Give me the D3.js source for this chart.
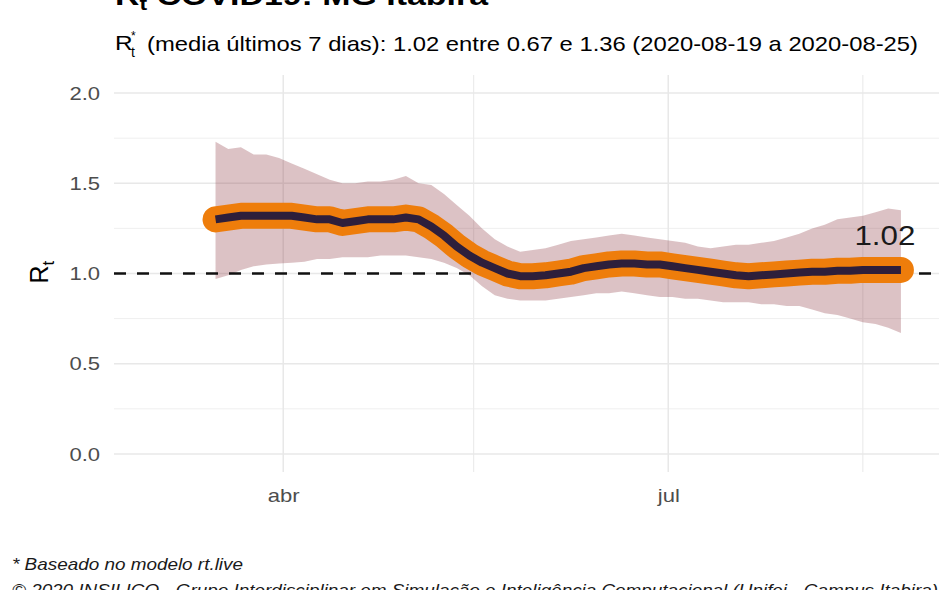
<!DOCTYPE html>
<html>
<head>
<meta charset="utf-8">
<script src="https://cdn.jsdelivr.net/npm/d3@7"></script>
<style>
  body { margin: 0; background: #fff; }
  svg text { font-family: "Liberation Sans", Arial, sans-serif; }
</style>
</head>
<body>
<div id="chart"></div>
<script>
// Rt estimates, one every 3 days, 2020-03-16 .. 2020-08-25
const startDay = "2020-03-16";
const stepDays = 3;

const rtMedian = [
  1.30, 1.31, 1.32, 1.32, 1.32, 1.32, 1.32, 1.31, 1.30, 1.30,
  1.28, 1.29, 1.30, 1.30, 1.30, 1.31, 1.30, 1.26, 1.21, 1.15,
  1.10, 1.06, 1.03, 1.00, 0.985, 0.985, 0.99, 1.00, 1.01, 1.03,
  1.04, 1.05, 1.055, 1.055, 1.05, 1.05, 1.04, 1.03, 1.02, 1.01,
  1.00, 0.99, 0.985, 0.99, 0.995, 1.00, 1.005, 1.01, 1.01, 1.015,
  1.015, 1.02, 1.02, 1.02, 1.02
];
const rtUpper = [
  1.73, 1.69, 1.70, 1.66, 1.66, 1.64, 1.61, 1.58, 1.55, 1.52,
  1.50, 1.50, 1.51, 1.51, 1.52, 1.54, 1.50, 1.49, 1.44, 1.38,
  1.32, 1.25, 1.19, 1.15, 1.12, 1.13, 1.14, 1.16, 1.18, 1.19,
  1.20, 1.21, 1.22, 1.21, 1.20, 1.19, 1.18, 1.17, 1.15, 1.14,
  1.15, 1.16, 1.16, 1.17, 1.18, 1.20, 1.22, 1.25, 1.27, 1.30,
  1.31, 1.32, 1.34, 1.36, 1.35
];
const rtLower = [
  0.97, 0.99, 1.02, 1.04, 1.05, 1.055, 1.06, 1.065, 1.08, 1.08,
  1.09, 1.09, 1.09, 1.10, 1.10, 1.10, 1.09, 1.08, 1.06, 1.03,
  0.99, 0.93, 0.88, 0.86, 0.85, 0.85, 0.85, 0.86, 0.87, 0.88,
  0.89, 0.89, 0.90, 0.89, 0.88, 0.87, 0.87, 0.86, 0.86, 0.85,
  0.84, 0.84, 0.84, 0.83, 0.83, 0.82, 0.82, 0.80, 0.78, 0.77,
  0.75, 0.73, 0.72, 0.70, 0.67
];

const yTicks = [0, 0.5, 1.0, 1.5, 2.0];
const yMinorTicks = [0.25, 0.75, 1.25, 1.75];
const xTickDates = ["2020-04-01", "2020-07-01"];
const xTickLabels = ["abr", "jul"];
const xMinorDates = ["2020-05-16", "2020-08-16"];
const xDomain = ["2020-02-21", "2020-09-03"];
const refLine = 1.0;
const lastLabel = "1.02";

const titleText = " COVID19: MG Itabira";
const subtitleText = "(media últimos 7 dias): 1.02 entre 0.67 e 1.36 (2020-08-19 a 2020-08-25)";
const caption1 = "* Baseado no modelo rt.live";
const caption2 = "© 2020 INSILICO - Grupo Interdisciplinar em Simulação e Inteligência Computacional (Unifei - Campus Itabira)";

const parse = d3.utcParse("%Y-%m-%d");
const data = rtMedian.map((m, i) => ({
  date: d3.utcDay.offset(parse(startDay), i * stepDays),
  median: m,
  lower: rtLower[i],
  upper: rtUpper[i]
}));

const width = 950, height = 590;
const panel = {left: 114, right: 939, top: 75, bottom: 472};
const stretch = 1.16;   // the reference text is a bit wider than plain Liberation Sans

function widen(sel, origin) {
  sel.style("transform-box", "fill-box")
    .style("transform-origin", origin)
    .style("transform", "scaleX(" + stretch + ")");
}

const svg = d3.select("#chart").append("svg")
  .attr("width", width)
  .attr("height", height);

const x = d3.scaleUtc()
  .domain(xDomain.map(parse))
  .range([panel.left, panel.right]);

const y = d3.scaleLinear()
  .domain([-0.1, 2.1])
  .range([panel.bottom, panel.top]);

// grid
svg.append("g").selectAll("line")
  .data(yMinorTicks).join("line")
  .attr("x1", panel.left).attr("x2", panel.right)
  .attr("y1", d => y(d)).attr("y2", d => y(d))
  .attr("stroke", "#efefef").attr("stroke-width", 1);
svg.append("g").selectAll("line")
  .data(xMinorDates).join("line")
  .attr("x1", d => x(parse(d))).attr("x2", d => x(parse(d)))
  .attr("y1", panel.top).attr("y2", panel.bottom)
  .attr("stroke", "#ececec").attr("stroke-width", 1.2);
svg.append("g").selectAll("line")
  .data(yTicks).join("line")
  .attr("x1", panel.left).attr("x2", panel.right)
  .attr("y1", d => y(d)).attr("y2", d => y(d))
  .attr("stroke", "#e8e8e8").attr("stroke-width", 1.5);
svg.append("g").selectAll("line")
  .data(xTickDates).join("line")
  .attr("x1", d => x(parse(d))).attr("x2", d => x(parse(d)))
  .attr("y1", panel.top).attr("y2", panel.bottom)
  .attr("stroke", "#e8e8e8").attr("stroke-width", 1.5);

// credible interval
const band = d3.area()
  .x(d => x(d.date))
  .y0(d => y(d.lower))
  .y1(d => y(d.upper));
svg.append("path")
  .attr("d", band(data))
  .attr("fill", "#8a343e")
  .attr("fill-opacity", 0.3);

// reference line at Rt = 1
svg.append("line")
  .attr("x1", panel.left).attr("x2", panel.right)
  .attr("y1", y(refLine)).attr("y2", y(refLine))
  .attr("stroke", "#111")
  .attr("stroke-width", 2.5)
  .attr("stroke-dasharray", "12,11");

const line = d3.line()
  .x(d => x(d.date))
  .y(d => y(d.median));

// orange points drawn as a fat round line
svg.append("path")
  .attr("d", line(data))
  .attr("fill", "none")
  .attr("stroke", "#ee7d0b")
  .attr("stroke-width", 26)
  .attr("stroke-linecap", "round")
  .attr("stroke-linejoin", "round");

svg.append("path")
  .attr("d", line(data))
  .attr("fill", "none")
  .attr("stroke", "#2e1f3b")
  .attr("stroke-width", 8)
  .attr("stroke-linejoin", "round");

// label of last value
const last = data[data.length - 1];
svg.append("text")
  .attr("x", x(last.date) - 16)
  .attr("y", y(last.median) - 25)
  .attr("text-anchor", "middle")
  .attr("font-size", 27)
  .attr("fill", "#1a1a1a")
  .text(lastLabel)
  .call(widen, "center");

// axes
const yAxis = d3.axisLeft(y)
  .tickValues(yTicks)
  .tickFormat(d3.format(".1f"))
  .tickSize(0)
  .tickPadding(14);
svg.append("g")
  .attr("transform", "translate(" + panel.left + ",0)")
  .call(yAxis)
  .call(g => g.select(".domain").remove())
  .selectAll("text")
  .attr("font-size", 19)
  .attr("fill", "#4d4d4d")
  .call(widen, "right center");

const xAxis = d3.axisBottom(x)
  .tickValues(xTickDates.map(parse))
  .tickFormat((d, i) => xTickLabels[i])
  .tickSize(0)
  .tickPadding(17);
svg.append("g")
  .attr("transform", "translate(0," + panel.bottom + ")")
  .call(xAxis)
  .call(g => g.select(".domain").remove())
  .selectAll("text")
  .attr("font-size", 19)
  .attr("fill", "#4d4d4d")
  .call(widen, "center");

// y axis title: R with subscript t
const ytitle = svg.append("text")
  .attr("transform", "translate(48," + (y(refLine) + 10) + ") rotate(-90)")
  .attr("font-size", 25)
  .attr("fill", "#000");
ytitle.append("tspan").text("R");
ytitle.append("tspan").attr("font-size", 17).attr("dy", 6).text("t");

// title (cut at the top of the picture)
const title = svg.append("text")
  .attr("x", 115).attr("y", 5)
  .attr("font-size", 28)
  .attr("font-weight", "bold")
  .attr("fill", "#000")
  .attr("textLength", 373)
  .attr("lengthAdjust", "spacingAndGlyphs");
title.append("tspan").text("R");
title.append("tspan").attr("font-size", 19).attr("dy", 5).text("t");
title.append("tspan").attr("dy", -5).text(titleText);

// subtitle: R*t ...
svg.append("text").attr("x", 115).attr("y", 50).attr("font-size", 21).text("R").call(widen, "left center");
svg.append("text").attr("x", 131).attr("y", 40).attr("font-size", 12).text("*");
svg.append("text").attr("x", 131).attr("y", 57).attr("font-size", 14).text("t");
svg.append("text").attr("x", 147).attr("y", 51).attr("font-size", 21)
  .attr("textLength", 771)
  .attr("lengthAdjust", "spacingAndGlyphs")
  .text(subtitleText);

// captions
svg.append("text")
  .attr("x", 12).attr("y", 570)
  .attr("font-size", 17)
  .attr("font-style", "italic")
  .attr("fill", "#1a1a1a")
  .attr("textLength", 231)
  .attr("lengthAdjust", "spacingAndGlyphs")
  .text(caption1);
svg.append("text")
  .attr("x", 12).attr("y", 596)
  .attr("font-size", 17)
  .attr("font-style", "italic")
  .attr("fill", "#1a1a1a")
  .attr("textLength", 926)
  .attr("lengthAdjust", "spacingAndGlyphs")
  .text(caption2);
</script>
</body>
</html>
